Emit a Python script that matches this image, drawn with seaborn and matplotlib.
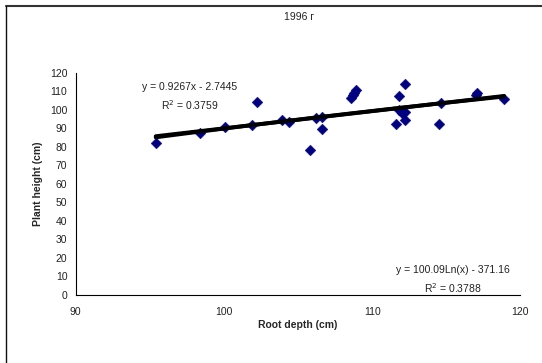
import numpy as np
import pandas as pd
import matplotlib
matplotlib.use("Agg")
import matplotlib.pyplot as plt
from matplotlib.lines import Line2D
import seaborn as sns

title = "1996 г"
x_label = "Root depth (cm)"
y_label = "Plant height (cm)"

root_depth = [95.4, 98.4, 100.1, 101.9, 102.2, 103.9, 104.4, 106.2, 106.6, 106.6,
              105.8, 108.6, 108.7, 108.8, 108.9, 111.8, 112.2, 111.8, 112.2, 112.0,
              112.2, 111.6, 114.65, 114.5, 117.1, 117.0, 118.9]
plant_height = [82.0, 87.3, 90.5, 91.6, 104.0, 94.5, 93.5, 95.5, 96.3, 89.5,
                78.0, 106.5, 108.0, 109.2, 110.5, 107.5, 114.0, 99.8, 98.9, 98.0,
                94.4, 92.5, 103.6, 92.5, 109.0, 107.8, 106.0]

lin_coef = [0.9267, -2.7445]
log_coef = [100.09, -371.16]
lin_label = ["y = 0.9267x - 2.7445", "R$^2$ = 0.3759"]
log_label = ["y = 100.09Ln(x) - 371.16", "R$^2$ = 0.3788"]

x_ticks = [90, 100, 110, 120]
y_ticks = list(range(0, 121, 10))

sns.set_style("white")
plt.rcParams['font.family'] = ['Liberation Sans', 'DejaVu Sans']

fig = plt.figure(figsize=(5.42, 3.63), dpi=100)
W, H = 542, 363
ax = fig.add_axes([75.7 / W, 1 - 294.7 / H, (520.3 - 75.7) / W, (294.7 - 72.7) / H])

df = pd.DataFrame({"x": root_depth, "y": plant_height})
sns.scatterplot(data=df, x="x", y="y", ax=ax, marker="D", s=30, color="#000080",
                edgecolor="#000080", linewidth=0.3, zorder=3)

xs = np.linspace(min(root_depth), max(root_depth), 100)
lin_df = pd.DataFrame({"x": xs, "y": lin_coef[0] * xs + lin_coef[1]})
log_df = pd.DataFrame({"x": xs, "y": log_coef[0] * np.log(xs) + log_coef[1]})
sns.lineplot(data=lin_df, x="x", y="y", ax=ax, color="black", lw=2.8, zorder=4)
sns.lineplot(data=log_df, x="x", y="y", ax=ax, color="black", lw=2.8, zorder=4)

ax.set_xlim(90, 120)
ax.set_ylim(0, 120)
ax.set_xticks(x_ticks)
ax.set_yticks(y_ticks)
ax.tick_params(axis="both", direction="out", length=3, width=0.8, color="black",
               labelsize=7.5, labelcolor="#222222", pad=3)
ax.tick_params(axis="x", pad=6)
for side in ["top", "right"]:
    ax.spines[side].set_visible(False)
for side in ["left", "bottom"]:
    ax.spines[side].set_color("black")
    ax.spines[side].set_linewidth(0.8)

ax.set_xlabel(x_label, fontsize=7.5, fontweight="bold", labelpad=2)
ax.set_ylabel(y_label, fontsize=7.5, fontweight="bold", labelpad=5)
fig.text(299 / W, 1 - 17 / H, title, ha="center", va="center", fontsize=7.5, color="#222222")

fig.text(190 / W, 1 - 87 / H, lin_label[0], ha="center", va="center", fontsize=7.5, color="#222222")
fig.text(190 / W, 1 - 105 / H, lin_label[1], ha="center", va="center", fontsize=7.5, color="#222222")
fig.text(453 / W, 1 - 270 / H, log_label[0], ha="center", va="center", fontsize=7.5, color="#222222")
fig.text(453 / W, 1 - 288 / H, log_label[1], ha="center", va="center", fontsize=7.5, color="#222222")

fig.add_artist(Line2D([6 / W, 1], [1 - 6 / H, 1 - 6 / H], color="#333333", lw=1.5,
                      transform=fig.transFigure))
fig.add_artist(Line2D([6 / W, 6 / W], [0, 1 - 6 / H], color="#111111", lw=1.0,
                      transform=fig.transFigure))

fig.savefig("out.png", dpi=100)
